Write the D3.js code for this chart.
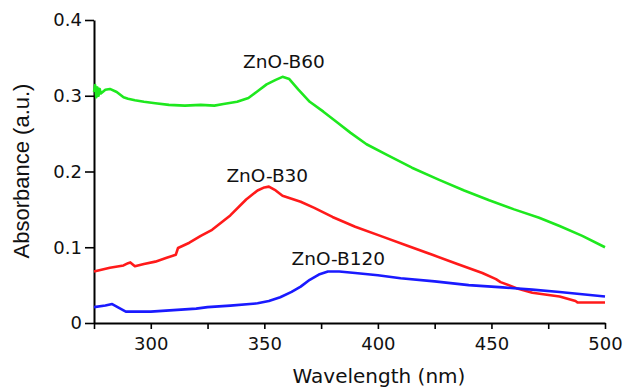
<!DOCTYPE html>
<html>
<head>
<meta charset="utf-8">
<script src="https://cdn.jsdelivr.net/npm/d3@7"></script>
<style>
  html, body { margin: 0; padding: 0; background: #fff; }
  svg { display: block; }
</style>
</head>
<body>
<div id="chart"></div>
<script>
// wavelength (nm), absorbance (a.u.)
const b60 = [
  [275, 0.305], [275.5, 0.314], [276, 0.298], [276.5, 0.311], [277, 0.300],
  [277.5, 0.309], [278, 0.303], [280, 0.308], [282, 0.309], [285, 0.305],
  [288, 0.298], [290, 0.296], [293, 0.294], [297, 0.292], [302, 0.290],
  [308, 0.288], [315, 0.287], [322, 0.288], [328, 0.287], [332, 0.289],
  [338, 0.292], [343, 0.297], [347, 0.306], [351, 0.315], [355, 0.321],
  [358, 0.325], [361, 0.322], [365, 0.308], [370, 0.292], [376, 0.279],
  [382, 0.265], [388, 0.251], [395, 0.236], [404, 0.222], [415, 0.205],
  [427, 0.189], [438, 0.175], [449, 0.162], [460, 0.150], [471, 0.139],
  [480, 0.128], [490, 0.115], [500, 0.100]
];
const b30 = [
  [275, 0.068], [282, 0.073], [288, 0.076], [290, 0.079], [291, 0.080],
  [293, 0.075], [297, 0.078], [302, 0.081], [307, 0.086], [311, 0.090],
  [312, 0.099], [317, 0.106], [322, 0.115], [327, 0.123], [335, 0.142],
  [342, 0.163], [347, 0.175], [350, 0.179], [352, 0.180], [355, 0.175],
  [358, 0.168], [362, 0.164], [366, 0.160], [372, 0.152], [380, 0.140],
  [390, 0.127], [402, 0.114], [413, 0.102], [424, 0.090], [435, 0.078],
  [446, 0.066], [452, 0.058], [454, 0.054], [461, 0.046], [468, 0.040],
  [480, 0.035], [487, 0.029], [488, 0.027], [500, 0.027]
];
const b120 = [
  [275, 0.021], [280, 0.023], [283, 0.025], [286, 0.020], [289, 0.015],
  [300, 0.015], [310, 0.017], [320, 0.019], [325, 0.021], [335, 0.023],
  [347, 0.026], [352, 0.029], [357, 0.034], [362, 0.041], [366, 0.048],
  [370, 0.057], [374, 0.064], [378, 0.068], [383, 0.068], [390, 0.066],
  [400, 0.063], [410, 0.059], [425, 0.055], [440, 0.050], [455, 0.047],
  [468, 0.044], [480, 0.041], [490, 0.038], [500, 0.035]
];

const seriesNames = ['ZnO-B60', 'ZnO-B30', 'ZnO-B120'];
const seriesColors = ['#1ee81e', '#ff1a1a', '#1a1aff'];
// label anchor positions in data units [wavelength, absorbance]
const labelPos = [[358.6, 0.337], [351.3, 0.186], [382.6, 0.0766]];

const xTicks = [300, 350, 400, 450, 500];
const xMinorTicks = [275, 325, 375, 425, 475];
const yTicks = [0, 0.1, 0.2, 0.3, 0.4];

const W = 627, H = 389;
const margin = { top: 20, right: 22, bottom: 66, left: 94 };
const width = W - margin.left - margin.right;
const height = H - margin.top - margin.bottom;

const svg = d3.select('#chart')
  .append('svg')
  .attr('width', W)
  .attr('height', H);

const g = svg.append('g')
  .attr('transform', `translate(${margin.left},${margin.top})`);

const x = d3.scaleLinear().domain([275, 500]).range([0, width]);
const y = d3.scaleLinear().domain([0, 0.4]).range([height, 0]);

const tickFont = '"DejaVu Sans", sans-serif';

// X axis (minor ticks first, then labelled)
g.append('g')
  .attr('transform', `translate(0,${height})`)
  .call(d3.axisBottom(x).tickValues(xMinorTicks).tickSize(6).tickFormat(''))
  .call(a => a.select('.domain').remove())
  .call(a => a.selectAll('.tick line').attr('stroke', '#000').attr('stroke-width', 1.6));

g.append('g')
  .attr('transform', `translate(0,${height})`)
  .call(d3.axisBottom(x).tickValues(xTicks).tickSize(6).tickSizeOuter(0).tickPadding(8))
  .call(a => a.select('.domain').attr('stroke', '#000').attr('stroke-width', 2))
  .call(a => a.selectAll('.tick line').attr('stroke', '#000').attr('stroke-width', 1.6))
  .call(a => a.selectAll('.tick text')
    .attr('fill', '#111')
    .style('font-family', tickFont)
    .style('font-size', '18px'));

// Y axis
g.append('g')
  .call(d3.axisLeft(y).tickValues(yTicks).tickSize(9).tickSizeOuter(0).tickPadding(3)
    .tickFormat(d => d === 0 ? '0' : d3.format('.1f')(d)))
  .call(a => a.select('.domain').attr('stroke', '#000').attr('stroke-width', 2))
  .call(a => a.selectAll('.tick line').attr('stroke', '#000').attr('stroke-width', 1.6))
  .call(a => a.selectAll('.tick text')
    .attr('fill', '#111')
    .style('font-family', tickFont)
    .style('font-size', '18px'));

// Lines
const line = d3.line()
  .x(d => x(d[0]))
  .y(d => y(d[1]));

[b60, b30, b120].forEach((data, i) => {
  g.append('path')
    .datum(data)
    .attr('fill', 'none')
    .attr('stroke', seriesColors[i])
    .attr('stroke-width', 2.6)
    .attr('stroke-linejoin', 'round')
    .attr('d', line);
});

// Series labels
seriesNames.forEach((name, i) => {
  g.append('text')
    .attr('x', x(labelPos[i][0]))
    .attr('y', y(labelPos[i][1]))
    .attr('text-anchor', 'middle')
    .attr('fill', '#111')
    .style('font-family', tickFont)
    .style('font-size', '18.5px')
    .text(name);
});

// Axis titles
svg.append('text')
  .attr('x', 379)
  .attr('y', 383)
  .attr('text-anchor', 'middle')
  .attr('fill', '#111')
  .style('font-family', tickFont)
  .style('font-size', '20px')
  .text('Wavelength (nm)');

svg.append('text')
  .attr('transform', 'translate(29,171) rotate(-90)')
  .attr('text-anchor', 'middle')
  .attr('fill', '#111')
  .style('font-family', '"Liberation Sans", Arial, sans-serif')
  .style('font-size', '22px')
  .text('Absorbance (a.u.)');
</script>
</body>
</html>
